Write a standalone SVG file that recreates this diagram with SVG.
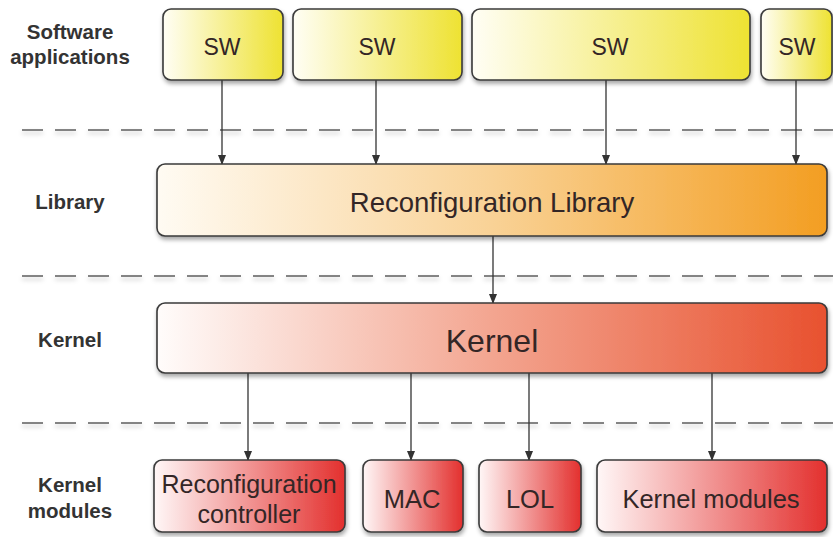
<svg xmlns="http://www.w3.org/2000/svg" width="833" height="537" viewBox="0 0 833 537">
<defs>
<linearGradient id="gY" x1="0" y1="0" x2="1" y2="0"><stop offset="0" stop-color="#fffef5"/><stop offset="1" stop-color="#eee232"/></linearGradient>
<linearGradient id="gO" x1="0" y1="0" x2="1" y2="0"><stop offset="0" stop-color="#fffbf3"/><stop offset="0.5" stop-color="#f9d296"/><stop offset="1" stop-color="#f39e22"/></linearGradient>
<linearGradient id="gK" x1="0" y1="0" x2="1" y2="0"><stop offset="0" stop-color="#fffcfb"/><stop offset="0.5" stop-color="#f3a590"/><stop offset="1" stop-color="#e8512f"/></linearGradient>
<linearGradient id="gR" x1="0" y1="0" x2="1" y2="0"><stop offset="0" stop-color="#fff7f7"/><stop offset="1" stop-color="#e3302e"/></linearGradient>
<filter id="sh" x="-10%" y="-10%" width="120%" height="140%"><feDropShadow dx="1" dy="3" stdDeviation="2" flood-color="#000" flood-opacity="0.35"/></filter>
<filter id="dsh" x="-5%" y="-200%" width="110%" height="500%"><feDropShadow dx="0" dy="3" stdDeviation="2" flood-color="#000" flood-opacity="0.25"/></filter>
<marker id="ah" markerWidth="10" markerHeight="10" refX="9" refY="5" orient="auto" markerUnits="userSpaceOnUse"><path d="M0,1 L10,5 L0,9 Z" fill="#333"/></marker>
</defs>
<style>
.box{stroke:#3a3a3a;stroke-width:1.6;}
.t{font-family:"Liberation Sans",Arial,sans-serif;fill:#332626;text-anchor:middle;}
.lab{font-family:"Liberation Sans",Arial,sans-serif;font-weight:bold;font-size:20.5px;fill:#333;text-anchor:middle;}
.dash{stroke:#5e5e5e;stroke-width:1.6;stroke-dasharray:21 12;fill:none;}
.con{stroke:#333;stroke-width:1.3;fill:none;marker-end:url(#ah);}
</style>
<g id="separators" filter="url(#dsh)">
<line class="dash" x1="22" y1="130" x2="833" y2="130"/>
<line class="dash" x1="22" y1="276" x2="833" y2="276"/>
<line class="dash" x1="22" y1="423" x2="833" y2="423"/>
</g>
<g id="layer-labels">
<text class="lab" x="70" y="39">Software</text>
<text class="lab" x="70" y="64">applications</text>
<text class="lab" x="70" y="209">Library</text>
<text class="lab" x="70" y="347">Kernel</text>
<text class="lab" x="70" y="492">Kernel</text>
<text class="lab" x="70" y="518">modules</text>
</g>
<g id="connectors">
<line class="con" x1="222" y1="80" x2="222" y2="164"/>
<line class="con" x1="376" y1="80" x2="376" y2="164"/>
<line class="con" x1="606" y1="80" x2="606" y2="164"/>
<line class="con" x1="796" y1="80" x2="796" y2="164"/>
<line class="con" x1="493" y1="236" x2="493" y2="303"/>
<line class="con" x1="248" y1="373" x2="248" y2="460"/>
<line class="con" x1="411" y1="373" x2="411" y2="460"/>
<line class="con" x1="529" y1="373" x2="529" y2="460"/>
<line class="con" x1="712" y1="373" x2="712" y2="460"/>
</g>
<g id="sw1"><rect class="box" x="163" y="9" width="120" height="71" rx="8" fill="url(#gY)" filter="url(#sh)"/><text class="t" x="222" y="55" font-size="23">SW</text></g>
<g id="sw2"><rect class="box" x="293" y="9" width="169" height="71" rx="8" fill="url(#gY)" filter="url(#sh)"/><text class="t" x="377" y="55" font-size="23">SW</text></g>
<g id="sw3"><rect class="box" x="472" y="9" width="278" height="71" rx="8" fill="url(#gY)" filter="url(#sh)"/><text class="t" x="610" y="55" font-size="23">SW</text></g>
<g id="sw4"><rect class="box" x="761" y="9" width="71" height="71" rx="8" fill="url(#gY)" filter="url(#sh)"/><text class="t" x="797" y="55" font-size="23">SW</text></g>
<g id="library"><rect class="box" x="157" y="164" width="670" height="72" rx="8" fill="url(#gO)" filter="url(#sh)"/><text class="t" x="492" y="212" font-size="27.5">Reconfiguration Library</text></g>
<g id="kernel"><rect class="box" x="157" y="303" width="670" height="70" rx="8" fill="url(#gK)" filter="url(#sh)"/><text class="t" x="492" y="352" font-size="32">Kernel</text></g>
<g id="reconf-controller"><rect class="box" x="154" y="460" width="191" height="72" rx="8" fill="url(#gR)" filter="url(#sh)"/><text class="t" x="249" y="493" font-size="25">Reconfiguration</text><text class="t" x="249" y="523" font-size="25">controller</text></g>
<g id="mac"><rect class="box" x="363" y="460" width="100" height="72" rx="8" fill="url(#gR)" filter="url(#sh)"/><text class="t" x="412" y="508" font-size="25.5">MAC</text></g>
<g id="lol"><rect class="box" x="479" y="460" width="102" height="72" rx="8" fill="url(#gR)" filter="url(#sh)"/><text class="t" x="530" y="508" font-size="25.5">LOL</text></g>
<g id="kernel-modules"><rect class="box" x="597" y="460" width="230" height="72" rx="8" fill="url(#gR)" filter="url(#sh)"/><text class="t" x="711" y="508" font-size="25.5">Kernel modules</text></g>
</svg>
